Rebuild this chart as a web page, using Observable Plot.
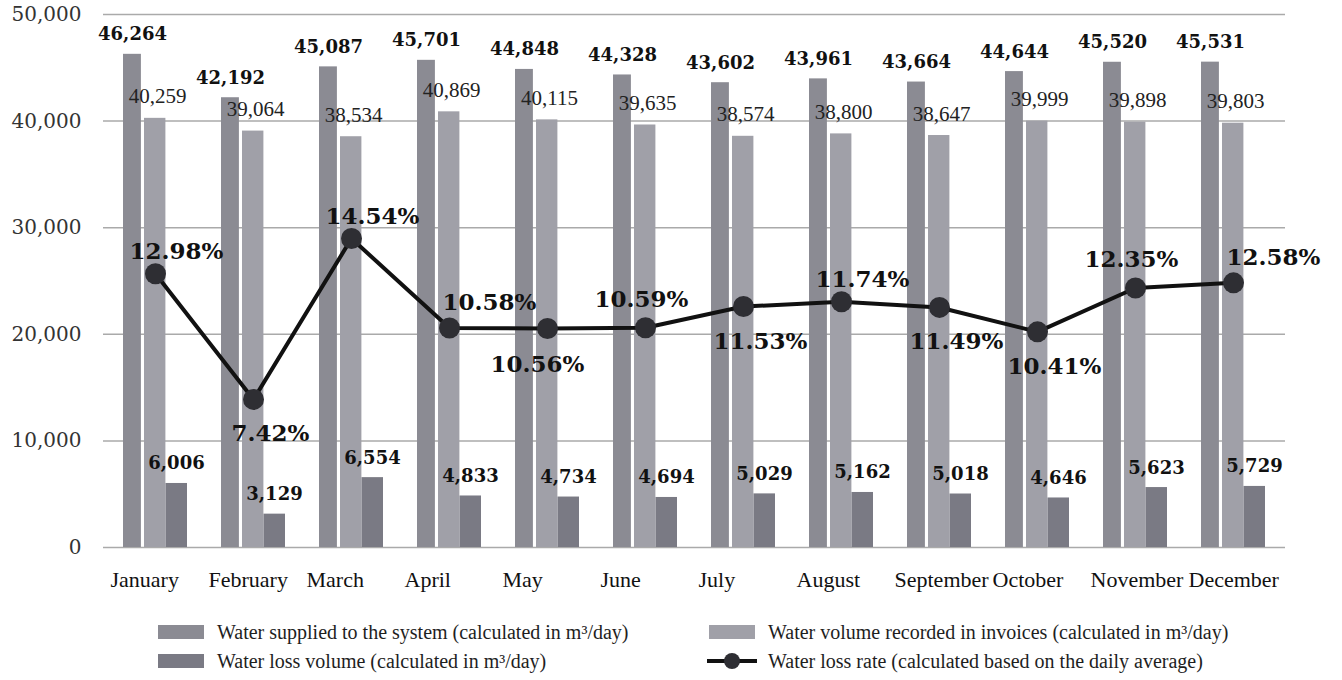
<!DOCTYPE html>
<html>
<head>
<meta charset="utf-8">
<script src="https://cdn.jsdelivr.net/npm/d3@7"></script>
<script src="https://cdn.jsdelivr.net/npm/@observablehq/plot@0.6"></script>
<style>
  body { margin: 0; background: #fff; }
  #wrap { position: relative; width: 1342px; height: 680px; background: #fff; }
  #legend { position: absolute; left: 0; top: 610px; width: 1342px; height: 70px;
            font-family: "Liberation Serif", "Times New Roman", serif; font-size: 20px; color: #1e1e1e; }
  .item { position: absolute; display: flex; align-items: center; height: 16px; white-space: nowrap; }
  .sw { width: 46px; height: 14px; margin-right: 13px; }
  .lsw { width: 50px; height: 18px; margin-right: 11px; }
</style>
</head>
<body>
<div id="wrap">
  <div id="plot"></div>
  <div id="legend"></div>
</div>
<script>
// ---- Data ----
const months = ["January","February","March","April","May","June","July","August","September","October","November","December"];
const supplied = [46264, 42192, 45087, 45701, 44848, 44328, 43602, 43961, 43664, 44644, 45520, 45531];
const invoiced = [40259, 39064, 38534, 40869, 40115, 39635, 38574, 38800, 38647, 39999, 39898, 39803];
const lossVolume = [6006, 3129, 6554, 4833, 4734, 4694, 5029, 5162, 5018, 4646, 5623, 5729];
const lossRate = [12.98, 7.42, 14.54, 10.58, 10.56, 10.59, 11.53, 11.74, 11.49, 10.41, 12.35, 12.58];
const yTicks = [0, 10000, 20000, 30000, 40000, 50000];
const seriesNames = [
  "Water supplied to the system (calculated in m³/day)",
  "Water volume recorded in invoices (calculated in m³/day)",
  "Water loss volume (calculated in m³/day)",
  "Water loss rate (calculated based on the daily average)"
];
// hidden secondary (rate, %) axis range, aligned with the 0–50,000 primary axis
const rateAxisDomain = [0.87, 24.45];

// ---- Styles ----
const colors = {supplied: "#8b8b93", invoiced: "#a0a0a8", loss: "#7a7a84", line: "#111", dot: "#2e2e33"};
// label placement for the rate labels (style only)
const ratePlacement = ["NE","S","NE","NEfar","SW","N","S","NE","S","S","N","NEfar"];
const placementOffsets = {NE: [21, -15], NEfar: [40, -18], N: [-4, -21], S: [17, 42], SW: [-10, 44]};

const rows = months.map((m, i) => ({
  month: m, supplied: supplied[i], invoiced: invoiced[i], loss: lossVolume[i], rate: lossRate[i], place: ratePlacement[i]
}));
const toPrimary = d3.scaleLinear().domain(rateAxisDomain).range([0, 50000]);
const fmt = d3.format(",");

const bw = 64.1;   // band width in px (group of three bars)
// bar extents inside the band (px): supplied [0,18], invoiced [21,42.5], loss [42.5,64.1]

const boldFont = {fontFamily: "DejaVu Serif", fontWeight: "bold", fontSize: 18, fill: "#111"};

const rateMarks = Object.entries(placementOffsets).map(([key, [dx, dy]]) =>
  Plot.text(rows.filter(d => d.place === key), {
    x: "month", y: d => toPrimary(d.rate), text: d => d.rate.toFixed(2) + "%",
    dx, dy, lineAnchor: "bottom", fontFamily: "DejaVu Serif", fontWeight: "bold", fontSize: 23, fill: "#111"
  })
);

const chart = Plot.plot({
  width: 1342,
  height: 610,
  marginLeft: 103,
  marginRight: 57,
  marginTop: 14,
  marginBottom: 63,
  style: {background: "#fff", overflow: "visible"},
  x: {domain: months, paddingInner: 0.35, paddingOuter: 0.175, label: null},
  y: {domain: [0, 50000], label: null},
  marks: [
    Plot.gridY(yTicks, {stroke: "#aaa", strokeOpacity: 1, strokeWidth: 1.5}),
    Plot.barY(rows, {x: "month", y: "supplied", fill: colors.supplied, insetRight: bw - 18}),
    Plot.barY(rows, {x: "month", y: "invoiced", fill: colors.invoiced, insetLeft: 21, insetRight: bw - 42.5}),
    Plot.barY(rows, {x: "month", y: "loss", fill: colors.loss, insetLeft: 42.5}),
    Plot.axisY(yTicks, {tickSize: 0, tickPadding: 22, tickFormat: fmt, fontFamily: "DejaVu Serif", fontSize: 20, fill: "#333", label: null}),
    Plot.axisX({tickSize: 0, tickPadding: 24, textAnchor: "start", dx: -45, fontFamily: "Liberation Serif", fontSize: 22, fill: "#111", label: null}),
    Plot.text(rows, {x: "month", y: "supplied", text: d => fmt(d.supplied), dx: -23, dy: -14, lineAnchor: "bottom", ...boldFont}),
    Plot.text(rows, {x: "month", y: "invoiced", text: d => fmt(d.invoiced), dx: 2, dy: -15, lineAnchor: "bottom",
      fontFamily: "Liberation Serif", fontSize: 21, fill: "#222"}),
    Plot.text(rows, {x: "month", y: "loss", text: d => fmt(d.loss), dx: 21, dy: -14, lineAnchor: "bottom", ...boldFont}),
    Plot.line(rows, {x: "month", y: d => toPrimary(d.rate), stroke: colors.line, strokeWidth: 4}),
    Plot.dot(rows, {x: "month", y: d => toPrimary(d.rate), r: 10.5, fill: colors.dot, stroke: "none"}),
    ...rateMarks
  ]
});
document.getElementById("plot").appendChild(chart);

// ---- Legend ----
const legend = document.getElementById("legend");
const items = [
  {name: seriesNames[0], color: colors.supplied, left: 158, top: 14},
  {name: seriesNames[1], color: colors.invoiced, left: 709, top: 14},
  {name: seriesNames[2], color: colors.loss, left: 158, top: 43},
  {name: seriesNames[3], line: true, left: 707, top: 43}
];
for (const it of items) {
  const div = document.createElement("div");
  div.className = "item";
  div.style.left = it.left + "px";
  div.style.top = it.top + "px";
  if (it.line) {
    div.innerHTML = `<svg class="lsw" width="50" height="18"><line x1="0" x2="50" y1="9" y2="9" stroke="${colors.line}" stroke-width="4"/><circle cx="25" cy="9" r="8" fill="${colors.dot}"/></svg>`;
  } else {
    div.innerHTML = `<span class="sw" style="background:${it.color}"></span>`;
  }
  const t = document.createElement("span");
  t.textContent = it.name;
  div.appendChild(t);
  legend.appendChild(div);
}
</script>
</body>
</html>
